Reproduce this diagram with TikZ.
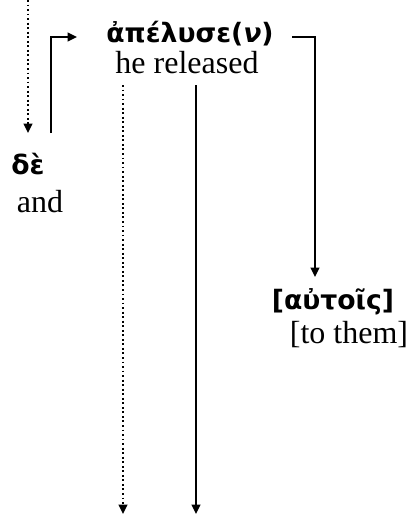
\documentclass[tikz,border=0pt]{standalone}
\usepackage{fontspec}
\setmainfont{Liberation Serif}
\newfontfamily\grk{DejaVu Sans}
\usetikzlibrary{arrows.meta, positioning}

\begin{document}
\begin{tikzpicture}[
    x=0.75pt, y=-0.75pt,
    greek/.style={font=\grk\bfseries\fontsize{20}{22}\selectfont, inner sep=0pt, anchor=base},
    gloss/.style={font=\fontsize{24}{26}\selectfont, inner sep=0pt, anchor=base},
    arr/.style={-{Triangle[length=7pt, width=6.5pt]}, line width=1.4pt},
    dotarr/.style={arr, dotted},
]
    \useasboundingbox (0,0) rectangle (409,514);

    % Verb
    \node[greek] (verb) at (190,42) {ἀπέλυσε({\itshape ν})};
    \node[gloss] (verbgl) at (187,73) {he released};

    % Conjunction
    \node[greek] (de) at (28,174) {δὲ};
    \node[gloss] (degl) at (40,212) {and};

    % Indirect object
    \node[greek] (autois) at (333,309) {[αὐτοῖς]};
    \node[gloss] (autoisgl) at (349,343) {[to them]};

    % Free ends
    \coordinate (top) at (28,0);
    \coordinate (deup) at (51,133);
    \coordinate (verbin) at (77,37);
    \coordinate (verbout) at (292,37);
    \coordinate (objin) at (315,277);
    \coordinate (dotstart) at (123,85);
    \coordinate (dotend) at (123,514);
    \coordinate (solstart) at (196,85);
    \coordinate (solend) at (196,514);

    % Arrows
    \draw[dotarr] (top) -- (28,133);
    \draw[arr] (deup) |- (verbin);
    \draw[arr] (verbout) -| (objin);
    \draw[dotarr] (dotstart) -- (dotend);
    \draw[arr] (solstart) -- (solend);
\end{tikzpicture}
\end{document}
